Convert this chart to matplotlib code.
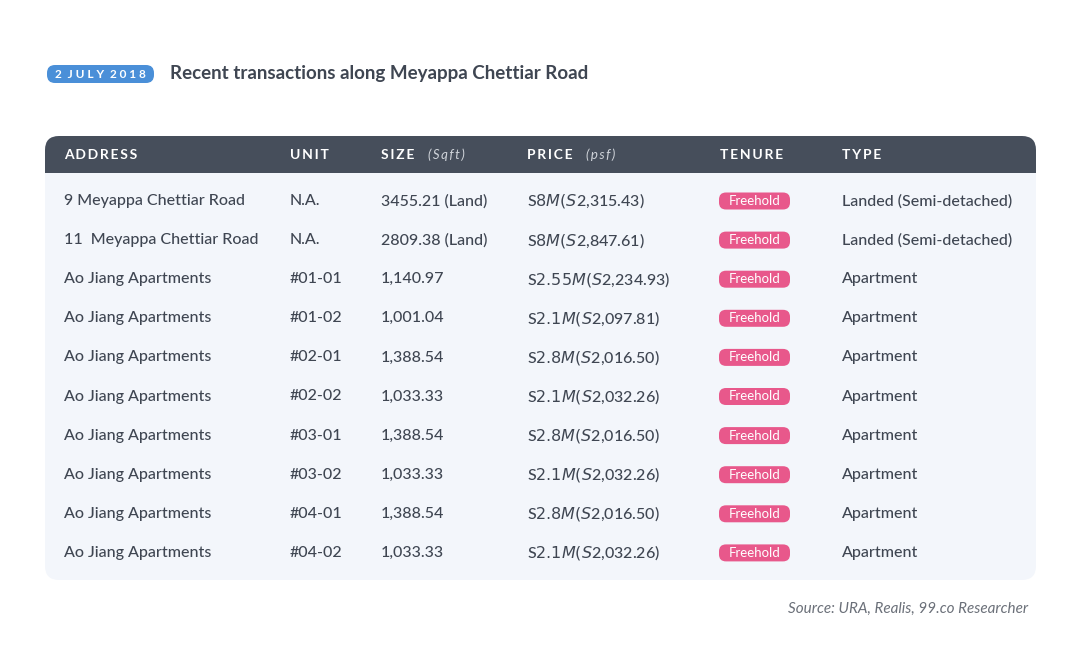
import matplotlib.pyplot as plt
from matplotlib.patches import FancyBboxPatch

plt.rcParams["font.family"] = ["Lato", "DejaVu Sans"]

addresses = ["9 Meyappa Chettiar Road", "11  Meyappa Chettiar Road"] + ["Ao Jiang Apartments"] * 8
units = ["N.A.", "N.A.", "#01-01", "#01-02", "#02-01", "#02-02", "#03-01", "#03-02", "#04-01", "#04-02"]
sizes = ["3455.21 (Land)", "2809.38 (Land)", "1,140.97", "1,001.04", "1,388.54", "1,033.33",
         "1,388.54", "1,033.33", "1,388.54", "1,033.33"]
prices = ["S$8 M (S$2,315.43)", "S$8 M (S$2,847.61)", "S$2.55 M (S$2,234.93)", "S$2.1 M (S$2,097.81)",
          "S$2.8 M (S$2,016.50)", "S$2.1 M (S$2,032.26)", "S$2.8 M (S$2,016.50)", "S$2.1 M (S$2,032.26)",
          "S$2.8 M (S$2,016.50)", "S$2.1 M (S$2,032.26)"]
tenures = ["Freehold"] * 10
types = ["Landed (Semi-detached)"] * 2 + ["Apartment"] * 8

headers = ["ADDRESS", "UNIT", "SIZE", "PRICE", "TENURE", "TYPE"]
header_sub = {"SIZE": ("(Sqft)", 428), "PRICE": ("(psf)", 586)}
col_x = [64, 290, 381, 527, 720, 842]

dark = "#3f4652"
fig = plt.figure(figsize=(10.8, 6.55), dpi=100)
ax = fig.add_axes([0, 0, 1, 1])
ax.set_xlim(0, 1080)
ax.set_ylim(655, 0)
ax.axis("off")

# date badge and title
ax.add_patch(FancyBboxPatch((47, 65), 107, 18, boxstyle="round,pad=0,rounding_size=8",
                            fc="#4a8fd8", ec="none"))
ax.text(100.5, 74.5, "2  J U L Y  2 0 1 8".replace("  ", "\u2002"), color="white",
        fontsize=8.5, fontweight="bold", ha="center", va="center")
ax.text(170, 74, "Recent transactions along Meyappa Chettiar Road", color=dark,
        fontsize=13.5, fontweight="bold", va="center")

# table body and header
ax.add_patch(FancyBboxPatch((45, 136), 991, 444, boxstyle="round,pad=0,rounding_size=14",
                            fc="#f3f6fb", ec="none"))
ax.add_patch(FancyBboxPatch((45, 136), 991, 37, boxstyle="round,pad=0,rounding_size=14",
                            fc="#464e5b", ec="none"))
ax.add_patch(plt.Rectangle((45, 158), 991, 15, fc="#464e5b", ec="none"))

for h, x in zip(headers, col_x):
    ax.text(x, 155, "\u2009".join(h), color="white", fontsize=10, fontweight="bold", va="center")
    if h in header_sub:
        s, sx = header_sub[h]
        ax.text(sx, 155, "\u2009".join(s), color="#d0d4da", fontsize=9.5, style="italic", va="center")

row_y0, row_dy = 201, 39.1
for i in range(len(addresses)):
    y = row_y0 + i * row_dy
    for x, val in zip([64, 290, 381, 527, 842], [addresses[i], units[i], sizes[i], prices[i], types[i]]):
        ax.text(x, y, val, color=dark, fontsize=11.5, fontweight="medium", va="center")
    ax.add_patch(FancyBboxPatch((719, y - 8.5), 71, 17, boxstyle="round,pad=0,rounding_size=7",
                                fc="#e8588b", ec="none"))
    ax.text(754.5, y, tenures[i], color="white", fontsize=9.5, ha="center", va="center")

ax.text(1028, 609, "Source: URA, Realis, 99.co Researcher", color="#6b7079",
        fontsize=11, style="italic", ha="right", va="center")

fig.savefig("out.png", dpi=100, facecolor="white")
